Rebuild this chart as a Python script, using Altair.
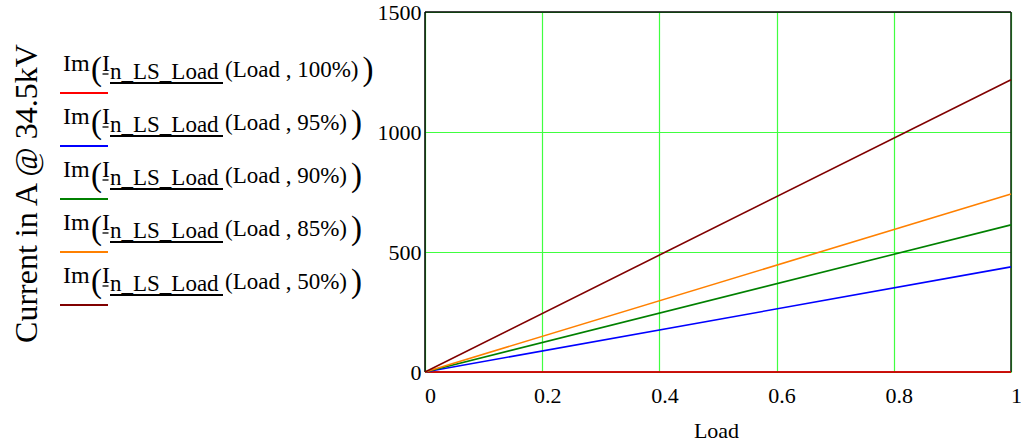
import altair as alt
import pandas as pd

# Load fraction (x) and imaginary part of the neutral current (A) per loading case
load = [0.0, 1.0]
case_labels = ["100%", "95%", "90%", "85%", "50%"]
current_100 = [0, 0]
current_95 = [0, 438]
current_90 = [0, 613]
current_85 = [0, 742]
current_50 = [0, 1218]
case_colors = ["#ff0000", "#0000ff", "#008000", "#ff8000", "#800000"]

x_ticks = [0, 0.2, 0.4, 0.6, 0.8, 1]
y_ticks = [0, 500, 1000, 1500]

series = [current_100, current_95, current_90, current_85, current_50]
rows = []
for label, vals in zip(case_labels, series):
    for lx, v in zip(load, vals):
        rows.append({"Load": lx, "current": v, "case": label})
df = pd.DataFrame(rows)

FONT = "Liberation Serif"
W, H = 586, 360
LEFT, TOP = 425, 12  # plot-area origin in page pixels


def px(x):
    return x - LEFT


def py(y):
    return y - TOP


lines = (
    alt.Chart(df)
    .mark_line(strokeWidth=1.6, clip=False)
    .encode(
        x=alt.X(
            "Load:Q",
            scale=alt.Scale(domain=[0, 1], nice=False, zero=False),
            axis=alt.Axis(
                values=x_ticks,
                format="~g",
                title="Load",
                titleFont=FONT,
                titleFontSize=22,
                titleFontWeight="normal",
                titleColor="black",
                titleX=291,
                titleY=65,
                titleAlign="center",
                titleBaseline="alphabetic",
                labelFont=FONT,
                labelFontSize=22,
                labelColor="black",
                labelPadding=13,
                labelOffset=5,
                labelFlush=False,
                labelOverlap=False,
                ticks=False,
                tickSize=0,
                domain=False,
                grid=True,
                gridColor="#40ff40",
                gridWidth=1.2,
            ),
        ),
        y=alt.Y(
            "current:Q",
            scale=alt.Scale(domain=[0, 1500], nice=False),
            axis=alt.Axis(
                values=y_ticks,
                format="d",
                title="Current in A @ 34.5kV",
                titleFont=FONT,
                titleFontSize=32,
                titleFontWeight="normal",
                titleColor="black",
                titleAngle=270,
                titleX=-389,
                titleY=181,
                titleAlign="center",
                titleBaseline="alphabetic",
                labelFont=FONT,
                labelFontSize=22,
                labelColor="black",
                labelPadding=4,
                labelFlush=False,
                labelOverlap=False,
                ticks=False,
                tickSize=0,
                domain=False,
                grid=True,
                gridColor="#40ff40",
                gridWidth=1.2,
            ),
        ),
        color=alt.Color(
            "case:N",
            scale=alt.Scale(domain=case_labels, range=case_colors),
            legend=None,
        ),
        order=alt.Order("case:N"),
        detail="case:N",
    )
)

# plot frame
frame = alt.layer(
    alt.Chart(pd.DataFrame({"k": [0]})).mark_rule(color="black", strokeWidth=1.5).encode(
        x=alt.value(0), x2=alt.value(W), y=alt.value(0)
    ),
    alt.Chart(pd.DataFrame({"k": [0]})).mark_rule(color="black", strokeWidth=1.5).encode(
        x=alt.value(0), x2=alt.value(W), y=alt.value(H)
    ),
    alt.Chart(pd.DataFrame({"k": [0]})).mark_rule(color="black", strokeWidth=1.5).encode(
        x=alt.value(0), y=alt.value(0), y2=alt.value(H)
    ),
    alt.Chart(pd.DataFrame({"k": [0]})).mark_rule(color="#112211", strokeWidth=1.5).encode(
        x=alt.value(W), y=alt.value(0), y2=alt.value(H)
    ),
)

# approximate glyph advance widths (em) for the serif font, used to place the closing bracket
EM = {"(": 0.333, ")": 0.333, "L": 0.611, "o": 0.5, "a": 0.444, "d": 0.5,
      " ": 0.25, ",": 0.25, "%": 0.833}


def text_width(s, size):
    return sum(EM.get(c, 0.5) for c in s) * size


def text_layer(text, x, y, size):
    return (
        alt.Chart(pd.DataFrame({"t": [text]}))
        .mark_text(align="left", baseline="alphabetic", font=FONT, fontSize=size, color="black")
        .encode(text="t:N", x=alt.value(px(x)), y=alt.value(py(y)))
    )


def rule_layer(x1, x2, y, color, width):
    return (
        alt.Chart(pd.DataFrame({"k": [0]}))
        .mark_rule(color=color, strokeWidth=width)
        .encode(x=alt.value(px(x1)), x2=alt.value(px(x2)), y=alt.value(py(y)))
    )


legend_layers = []
ROW_STEP = 53
for i, (label, color) in enumerate(zip(case_labels, case_colors)):
    dy = ROW_STEP * i
    args = "(Load , " + label + ")"
    close_x = 225 + text_width(args, 23) + 4
    legend_layers += [
        text_layer("Im", 63, 71 + dy, 24),
        text_layer("(", 91, 80 + dy, 33),
        text_layer("I", 102, 71 + dy, 24),
        rule_layer(102.5, 108.5, 74 + dy, "black", 1.3),
        text_layer("n_LS_Load", 110, 79 + dy, 23),
        rule_layer(110, 223, 83 + dy, "black", 1.8),
        text_layer(args, 225, 77 + dy, 23),
        text_layer(")", close_x, 80 + dy, 33),
        rule_layer(60, 108, 93 + dy, color, 2),
    ]

chart = (
    alt.layer(frame, lines, *legend_layers)
    .properties(
        width=W,
        height=H,
        autosize=alt.AutoSizeParams(type="none"),
        padding={"left": LEFT, "top": TOP, "right": 1021 - LEFT - W, "bottom": 446 - TOP - H},
        background="white",
    )
    .configure_view(stroke=None)
)

chart.save("out.html", embed_options={"renderer": "svg", "actions": False})
